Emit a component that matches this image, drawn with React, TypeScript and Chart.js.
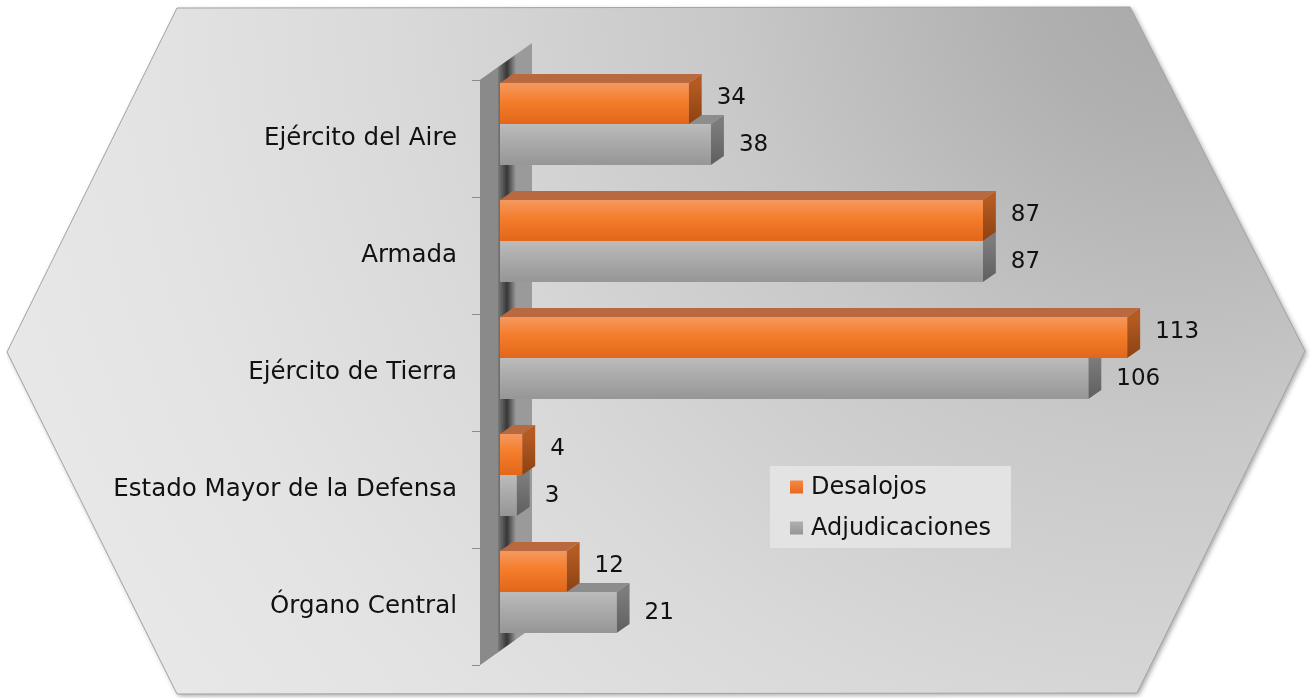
import React, { useEffect, useRef } from "react";
import { Chart, registerables } from "chart.js";

Chart.register(...registerables);

// ---- data ----
const categories = [
  "Ejército del Aire",
  "Armada",
  "Ejército de Tierra",
  "Estado Mayor de la Defensa",
  "Órgano Central",
];
const seriesNames = ["Desalojos", "Adjudicaciones"];
const desalojos = [34, 87, 113, 4, 12];
const adjudicaciones = [38, 87, 106, 3, 21];
const X_MAX = 130;

// ---- style ----
const FONT = "'DejaVu Sans', Verdana, sans-serif";
const STYLES = [
  {
    front: ["#f6985f", "#f47d2b", "#e2661a"],
    top: "#b9693f",
    side: ["#b55b22", "#8c4212"],
    legend: ["#f58a45", "#e8681c"],
  },
  {
    front: ["#bcbcbc", "#aaaaaa", "#969696"],
    top: "#8d8d8d",
    side: ["#7c7c7c", "#5f5f5f"],
    legend: ["#b0b0b0", "#959595"],
  },
];
const DEPTH_X = 13;
const DEPTH_Y = -9;
const WALL_DX = 52;
const WALL_DY = -37;
const GRID_SHIFT = 14.5;
const LABEL_GAP = 28;

const hexPlugin = {
  id: "hexBg",
  beforeDraw(chart: any) {
    const { ctx } = chart;
    const pts = [
      [177, 8],
      [1130, 7],
      [1305, 351],
      [1137, 693],
      [177, 694],
      [7, 352],
    ];
    ctx.save();
    ctx.beginPath();
    pts.forEach(([x, y], i) => (i === 0 ? ctx.moveTo(x, y) : ctx.lineTo(x, y)));
    ctx.closePath();
    ctx.shadowColor = "rgba(0,0,0,0.35)";
    ctx.shadowBlur = 5;
    ctx.shadowOffsetX = 2;
    ctx.shadowOffsetY = 2;
    const g = ctx.createRadialGradient(1180, -30, 0, 1180, -30, 1300);
    g.addColorStop(0, "#a8a8a8");
    g.addColorStop(0.12, "#b0b0b0");
    g.addColorStop(0.35, "#c8c8c8");
    g.addColorStop(0.6, "#d9d9d9");
    g.addColorStop(0.8, "#e3e3e3");
    g.addColorStop(1, "#e9e9e9");
    ctx.fillStyle = g;
    ctx.fill();
    ctx.shadowColor = "transparent";
    ctx.strokeStyle = "#a3a3a3";
    ctx.lineWidth = 1;
    ctx.stroke();
    ctx.restore();
  },
};

function gridInfo(chart: any) {
  const y = chart.scales.y;
  const x = chart.scales.x;
  const zero = x.getPixelForValue(0);
  const n = categories.length;
  const half = (y.getPixelForValue(1) - y.getPixelForValue(0)) / 2;
  const top = y.getPixelForValue(0) - half + GRID_SHIFT;
  const bottom = y.getPixelForValue(n - 1) + half + GRID_SHIFT;
  return { y, x, zero, n, half, top, bottom };
}

const wallPlugin = {
  id: "wall3d",
  beforeDatasetsDraw(chart: any) {
    const { ctx } = chart;
    const { y, zero, n, half, top, bottom } = gridInfo(chart);
    const x0 = zero - 20;
    ctx.save();
    ctx.beginPath();
    ctx.moveTo(x0, top);
    ctx.lineTo(x0 + WALL_DX, top + WALL_DY);
    ctx.lineTo(x0 + WALL_DX, bottom + WALL_DY);
    ctx.lineTo(x0, bottom);
    ctx.closePath();
    ctx.fillStyle = "#9a9a9a";
    ctx.fill();
    ctx.clip();
    ctx.fillStyle = "#8a8a8a";
    ctx.fillRect(x0, top - 60, zero - 2 - x0, bottom - top + 60);
    const g = ctx.createLinearGradient(zero - 2, 0, zero + 16, 0);
    g.addColorStop(0, "#7a7a7a");
    g.addColorStop(0.5, "#363636");
    g.addColorStop(1, "#9a9a9a");
    ctx.fillStyle = g;
    ctx.fillRect(zero - 2, top - 60, 18, bottom - top + 60);
    ctx.restore();
    ctx.save();
    ctx.strokeStyle = "#8c8c8c";
    ctx.lineWidth = 1;
    for (let i = 0; i <= n; i++) {
      const yy = Math.round(y.getPixelForValue(0) - half + GRID_SHIFT + i * 2 * half) + 0.5;
      ctx.beginPath();
      ctx.moveTo(x0 - 8, yy);
      ctx.lineTo(x0, yy);
      ctx.stroke();
    }
    ctx.restore();
  },
};

const barPlugin = {
  id: "bar3d",
  afterDatasetDraw(chart: any, args: any) {
    const { ctx } = chart;
    const st = STYLES[args.index];
    const meta = args.meta;
    ctx.save();
    meta.data.forEach((el: any) => {
      const p = el.getProps(["x", "y", "base", "height"], true);
      const t = p.y - p.height / 2;
      const b = p.y + p.height / 2;
      const l = p.base;
      const r = p.x;
      ctx.beginPath();
      ctx.moveTo(l, t);
      ctx.lineTo(r, t);
      ctx.lineTo(r + DEPTH_X, t + DEPTH_Y);
      ctx.lineTo(l + DEPTH_X, t + DEPTH_Y);
      ctx.closePath();
      ctx.fillStyle = st.top;
      ctx.fill();
      ctx.beginPath();
      ctx.moveTo(r, t);
      ctx.lineTo(r + DEPTH_X, t + DEPTH_Y);
      ctx.lineTo(r + DEPTH_X, b + DEPTH_Y);
      ctx.lineTo(r, b);
      ctx.closePath();
      const sg = ctx.createLinearGradient(0, t, 0, b);
      sg.addColorStop(0, st.side[0]);
      sg.addColorStop(1, st.side[1]);
      ctx.fillStyle = sg;
      ctx.fill();
      const fg = ctx.createLinearGradient(0, t, 0, b);
      fg.addColorStop(0, st.front[0]);
      fg.addColorStop(0.45, st.front[1]);
      fg.addColorStop(1, st.front[2]);
      ctx.fillStyle = fg;
      ctx.fillRect(l, t, r - l, b - t);
    });
    ctx.restore();
  },
  afterDatasetsDraw(chart: any) {
    const { ctx } = chart;
    ctx.save();
    ctx.font = `23px ${FONT}`;
    ctx.fillStyle = "#111111";
    ctx.textAlign = "left";
    ctx.textBaseline = "middle";
    chart.data.datasets.forEach((ds: any, di: number) => {
      const meta = chart.getDatasetMeta(di);
      meta.data.forEach((el: any, i: number) => {
        const p = el.getProps(["x", "y"], true);
        ctx.fillText(String(ds.data[i]), p.x + LABEL_GAP, p.y + (di === 0 ? -5 : 1));
      });
    });
    ctx.restore();
  },
};

const legendPlugin = {
  id: "legendBox",
  afterDraw(chart: any) {
    const { ctx } = chart;
    const bx = 770, by = 466, bw = 241, bh = 82;
    ctx.save();
    ctx.fillStyle = "#e3e3e3";
    ctx.fillRect(bx, by, bw, bh);
    ctx.font = `24px ${FONT}`;
    ctx.textAlign = "left";
    ctx.textBaseline = "middle";
    chart.data.datasets.forEach((ds: any, i: number) => {
      const cy = by + 21 + i * 41;
      const st = STYLES[i];
      const g = ctx.createLinearGradient(0, cy - 6.5, 0, cy + 6.5);
      g.addColorStop(0, st.legend[0]);
      g.addColorStop(1, st.legend[1]);
      ctx.fillStyle = g;
      ctx.fillRect(bx + 20, cy - 6.5, 13, 13);
      ctx.fillStyle = "#111111";
      ctx.fillText(ds.label, bx + 41, cy + 1);
    });
    ctx.restore();
  },
};

export default function App() {
  const ref = useRef<HTMLCanvasElement | null>(null);
  useEffect(() => {
    if (!ref.current) return;
    const chart = new Chart(ref.current, {
      type: "bar",
      data: {
        labels: categories,
        datasets: [
          {
            label: seriesNames[0],
            data: desalojos,
            backgroundColor: STYLES[0].front[1],
            borderWidth: 0,
            categoryPercentage: 0.7,
            barPercentage: 1,
          },
          {
            label: seriesNames[1],
            data: adjudicaciones,
            backgroundColor: STYLES[1].front[1],
            borderWidth: 0,
            categoryPercentage: 0.7,
            barPercentage: 1,
          },
        ],
      },
      options: {
        indexAxis: "y",
        animation: false,
        responsive: true,
        maintainAspectRatio: false,
        layout: { padding: { left: 0, right: 89.5, top: 65.5, bottom: 47.5 } },
        plugins: { legend: { display: false }, tooltip: { enabled: false } },
        scales: {
          x: { display: false, min: 0, max: X_MAX },
          y: {
            grid: { display: false, drawTicks: false },
            border: { display: false },
            ticks: {
              color: "#111111",
              font: { family: FONT, size: 24.5 },
              padding: 43,
              labelOffset: 15,
            },
            afterFit: (s: any) => {
              s.width = 500;
              s.paddingTop = 0;
              s.paddingBottom = 0;
            },
          },
        },
      },
      plugins: [hexPlugin, wallPlugin, barPlugin, legendPlugin],
    } as any);
    return () => chart.destroy();
  }, []);
  return (
    <div style={{ position: "absolute", left: 0, top: 0, width: 1311, height: 698 }}>
      <canvas ref={ref} />
    </div>
  );
}
